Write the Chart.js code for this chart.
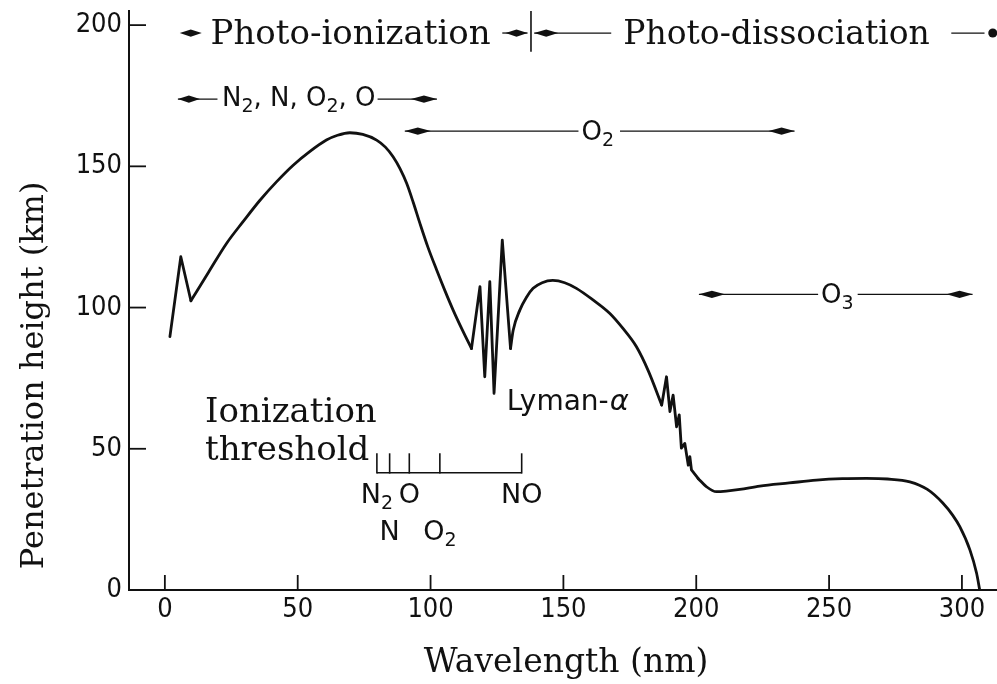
<!DOCTYPE html>
<html>
<head>
<meta charset="utf-8">
<script src="https://cdn.jsdelivr.net/npm/chart.js@4.4.1/dist/chart.umd.min.js"></script>
<style>
  html, body { margin: 0; padding: 0; background: #fff; }
  canvas { display: block; background: #fff; }
</style>
</head>
<body>
<canvas id="chart" width="997" height="684"></canvas>
<script>
// values (nm, km)
const wavelengthNm = [
  1.9, 6.0, 9.8, 16.5, 23.2, 29.5, 35.8, 42.0, 48.3, 54.5, 60.8, 65.0, 69.6, 74.5, 79.7,
  83.0, 85.9, 88.5, 91.0, 93.5, 96.0, 99.0, 102.3, 105.4, 108.5, 112.0, 115.4,
  118.6, 120.4, 122.3, 123.9, 127.0, 130.1, 131.1, 133.6, 136.0, 138.6, 142.0, 146.0,
  150.5, 154.9, 161.0, 167.5, 172.5, 177.5, 182.0, 187.0,
  188.8, 190.1, 191.3, 192.6, 193.6, 194.4, 195.7, 197.0, 197.6, 198.2,
  200.7, 203.8, 207.6, 212.0, 216.4, 223.9, 235.0, 245.2, 255.0, 264.0, 272.0,
  280.4, 287.0, 292.8, 296.5, 299.2, 303.0, 305.5, 306.7
];
const heightKm = [
  89.7, 118.0, 102.4, 112.6, 122.7, 130.5, 138.0, 144.5, 150.4, 155.2, 159.3, 161.0, 161.9, 161.3, 159.3,
  156.8, 153.4, 149.2, 144.0, 137.2, 129.8, 121.4, 113.3, 106.0, 99.1, 92.0, 85.5,
  107.4, 75.5, 109.2, 69.6, 123.9, 85.5, 92.0, 99.1, 103.5, 106.8, 108.8, 109.6,
  108.8, 106.8, 102.8, 97.9, 92.5, 86.1, 77.5, 65.5,
  75.5, 63.2, 69.0, 57.8, 62.0, 50.2, 51.9, 44.2, 47.2, 42.5,
  39.5, 36.6, 34.8, 35.1, 35.6, 36.8, 37.9, 38.9, 39.4, 39.5, 39.3,
  38.3, 35.6, 30.8, 26.5, 22.4, 14.2, 6.0, 0.0
];
// point indexes where the curve switches between jagged and smooth parts
const curveBreaks = [0, 2, 26, 32, 46, 57, wavelengthNm.length - 1];

const xTicks = [0, 50, 100, 150, 200, 250, 300];
const yTicks = [0, 50, 100, 150, 200];

// ionization thresholds marked under the curve
const thresholdNames = ["N_2", "N", "O", "O_2", "NO"];
const thresholdNm = [79.8, 84.6, 92.0, 103.5, 134.3];
const thresholdRow = [0, 1, 0, 1, 0];

const xTitle = "Wavelength (nm)";
const yTitle = "Penetration height (km)";

const INK = "#111";
const SERIF = "'DejaVu Serif', serif";
const SANS = "'DejaVu Sans', sans-serif";
const SANS_NARROW = "'DejaVu Sans Condensed', 'DejaVu Sans', sans-serif";

// draws text where "_d" means subscript d; returns width
const richText = (ctx, str, x, y, size, family, align = "left") => {
  const parts = [];
  let i = 0;
  while (i < str.length) {
    if (str[i] === "_") {
      parts.push({ t: str[i + 1], sub: true });
      i += 2;
    } else {
      let j = i;
      while (j < str.length && str[j] !== "_") j++;
      parts.push({ t: str.slice(i, j), sub: false });
      i = j;
    }
  }
  const fontFor = (p) => `${p.sub ? Math.round(size * 0.72) : size}px ${family}`;
  let total = 0;
  parts.forEach((p) => {
    ctx.font = fontFor(p);
    p.w = ctx.measureText(p.t).width;
    total += p.w;
  });
  let cx = x;
  if (align === "center") cx = x - total / 2;
  if (align === "right") cx = x - total;
  ctx.textAlign = "left";
  ctx.textBaseline = "alphabetic";
  parts.forEach((p) => {
    ctx.font = fontFor(p);
    ctx.fillText(p.t, cx, p.sub ? y + size * 0.22 : y);
    cx += p.w;
  });
  return total;
};

const line = (ctx, x1, y1, x2, y2) => {
  ctx.beginPath();
  ctx.moveTo(x1, y1);
  ctx.lineTo(x2, y2);
  ctx.stroke();
};

// spindle shaped arrow head, dir -1 points left, +1 points right
const arrowHead = (ctx, tip, y, dir, len = 22, half = 3.6) => {
  const b = tip - dir * len;
  const m = tip - dir * len * 0.5;
  ctx.beginPath();
  ctx.moveTo(tip, y);
  ctx.lineTo(m, y - half);
  ctx.lineTo(b, y);
  ctx.lineTo(m, y + half);
  ctx.closePath();
  ctx.fill();
};

const figureNotes = {
  id: "figureNotes",
  afterDraw(chart) {
    const { ctx, chartArea, scales: { x, y } } = chart;
    const X = (v) => x.getPixelForValue(v);
    const Y = (v) => y.getPixelForValue(v);
    ctx.save();
    ctx.strokeStyle = INK;
    ctx.fillStyle = INK;
    ctx.lineCap = "butt";

    // inward tick marks
    ctx.lineWidth = 1.8;
    xTicks.forEach((v) => line(ctx, X(v), chartArea.bottom, X(v), chartArea.bottom - 15));
    yTicks.forEach((v) => line(ctx, chartArea.left, Y(v), chartArea.left + 17, Y(v)));

    // axis titles
    ctx.textAlign = "center";
    ctx.textBaseline = "alphabetic";
    ctx.font = `33px ${SERIF}`;
    ctx.fillText(xTitle, X(151), chart.height - 12);
    ctx.save();
    ctx.translate(chartArea.left - 86, Y(76));
    ctx.rotate(-Math.PI / 2);
    ctx.font = `32px ${SERIF}`;
    ctx.fillText(yTitle, 0, 0);
    ctx.restore();

    ctx.lineWidth = 1.3;

    // row 1: photo-ionization | photo-dissociation
    const r1 = Y(197.2);
    const r1b = Y(193.3);
    arrowHead(ctx, X(5.6), r1, -1);
    richText(ctx, "Photo-ionization", X(17.2), r1b, 34, SERIF);
    line(ctx, X(127), r1, X(136.5), r1);
    arrowHead(ctx, X(136.5), r1, 1);
    ctx.lineWidth = 1.6;
    line(ctx, X(137.8), Y(190.6), X(137.8), Y(205));
    ctx.lineWidth = 1.3;
    arrowHead(ctx, X(139), r1, -1, 24);
    line(ctx, X(139), r1, X(168), r1);
    richText(ctx, "Photo-dissociation", X(172.5), r1b, 33, SERIF);
    line(ctx, X(296), r1, X(308.5), r1);
    ctx.beginPath();
    ctx.arc(X(311.6), r1, 4.5, 0, Math.PI * 2);
    ctx.fill();

    // row 2: N2, N, O2, O
    const r2 = Y(173.8);
    arrowHead(ctx, X(4.9), r2, -1);
    line(ctx, X(4.9), r2, X(19.8), r2);
    const w2 = richText(ctx, "N_2, N, O_2, O", X(21.5), Y(171.3), 26, SANS);
    line(ctx, X(21.5) + w2 + 2, r2, X(102.4), r2);
    arrowHead(ctx, X(102.4), r2, 1, 26);

    // O2 band
    const r3 = Y(162.5);
    const o2x = X(156.8);
    const w3 = richText(ctx, "O_2", o2x, Y(159.3), 26, SANS);
    arrowHead(ctx, X(90.3), r3, -1, 26);
    line(ctx, X(90.3), r3, o2x - 3, r3);
    line(ctx, o2x + w3 + 6, r3, X(237), r3);
    arrowHead(ctx, X(237), r3, 1, 26);

    // O3 band
    const r4 = Y(104.7);
    const o3x = X(247);
    const w4 = richText(ctx, "O_3", o3x, Y(101.5), 26, SANS);
    arrowHead(ctx, X(201), r4, -1, 26);
    line(ctx, X(201), r4, o3x - 3, r4);
    line(ctx, o3x + w4 + 4, r4, X(304), r4);
    arrowHead(ctx, X(304), r4, 1, 26);

    // Lyman-alpha
    ctx.textAlign = "left";
    ctx.font = `28px ${SANS}`;
    const lx = X(128.7);
    const ly = Y(63.7);
    ctx.fillText("Lyman-", lx, ly);
    const lw = ctx.measureText("Lyman-").width;
    ctx.font = `italic 29px ${SANS}`;
    ctx.fillText("α", lx + lw + 1, ly);

    // ionization threshold
    ctx.font = `34px ${SERIF}`;
    ctx.fillText("Ionization", X(15.1), Y(59.6));
    ctx.fillText("threshold", X(15.1), Y(46));

    ctx.lineWidth = 1.6;
    const base = Y(41.5);
    const top = Y(48.4);
    line(ctx, X(thresholdNm[0]), base, X(thresholdNm[thresholdNm.length - 1]), base);
    thresholdNm.forEach((v, i) => {
      line(ctx, X(v), base + 0.8, X(v), top);
      const by = thresholdRow[i] === 0 ? Y(30.8) : Y(17.7);
      richText(ctx, thresholdNames[i], X(v), by, 27, SANS, "center");
    });

    ctx.restore();
  }
};

// one dataset per stretch: jagged stretches straight, smooth ones interpolated
const curveSets = curveBreaks.slice(0, -1).map((start, k) => {
  const end = curveBreaks[k + 1];
  const jagged = k % 2 === 0;
  return {
    data: wavelengthNm.slice(start, end + 1).map((w, i) => ({ x: w, y: heightKm[start + i] })),
    showLine: true,
    borderColor: INK,
    borderWidth: 2.8,
    borderJoinStyle: "round",
    borderCapStyle: "round",
    pointRadius: 0,
    tension: jagged ? 0 : 0.4,
    cubicInterpolationMode: jagged ? "default" : "monotone",
    fill: false
  };
});

new Chart(document.getElementById("chart"), {
  type: "scatter",
  data: { datasets: curveSets },
  options: {
    responsive: false,
    animation: false,
    layout: { padding: { top: 11, right: 0, bottom: 0, left: 0 } },
    plugins: { legend: { display: false }, tooltip: { enabled: false } },
    scales: {
      x: {
        type: "linear",
        min: -13.5,
        max: 313.2,
        grid: { display: false, drawTicks: false },
        border: { display: true, color: INK, width: 2 },
        ticks: { color: INK, font: { family: SANS_NARROW, size: 27 }, padding: 4, autoSkip: false, maxRotation: 0 },
        afterBuildTicks: (s) => { s.ticks = xTicks.map((v) => ({ value: v })); },
        afterFit: (s) => {
          s.height = 94;
          s.paddingLeft = 0; s.paddingRight = 0; s.paddingTop = 0; s.paddingBottom = 0;
        }
      },
      y: {
        type: "linear",
        min: 0,
        max: 205,
        grid: { display: false, drawTicks: false },
        border: { display: true, color: INK, width: 2 },
        ticks: { color: INK, font: { family: SANS_NARROW, size: 27 }, padding: 7 },
        afterBuildTicks: (s) => { s.ticks = yTicks.map((v) => ({ value: v })); },
        afterFit: (s) => {
          s.width = 129;
          s.paddingLeft = 0; s.paddingRight = 0; s.paddingTop = 0; s.paddingBottom = 0;
        }
      }
    }
  },
  plugins: [figureNotes]
});
</script>
</body>
</html>
